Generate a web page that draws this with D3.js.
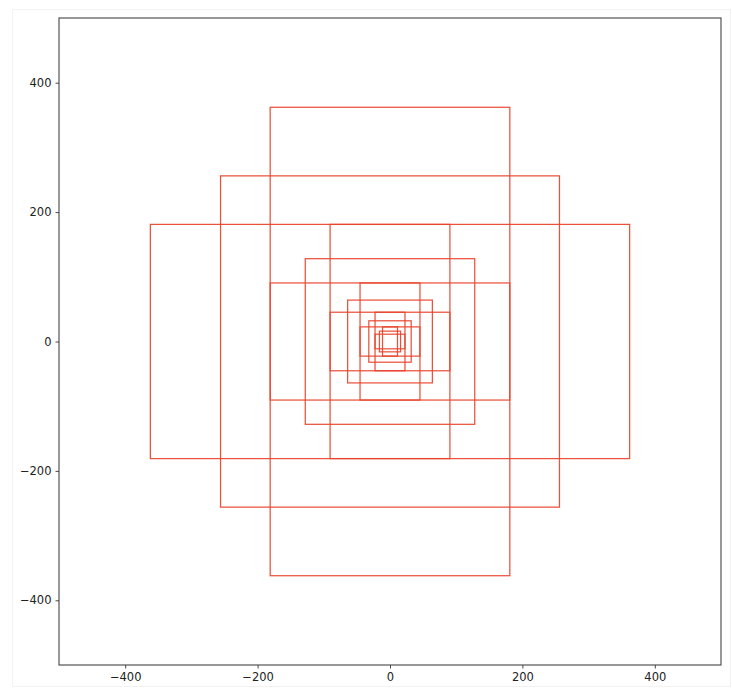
<!DOCTYPE html>
<html>
<head>
<meta charset="utf-8">
<script src="https://cdn.jsdelivr.net/npm/d3@7"></script>
<style>
html, body { margin: 0; padding: 0; background: #fff; }
svg { display: block; }
</style>
</head>
<body>
<svg id="chart" width="732" height="688"></svg>
<script>
// Nested rectangles (centred at origin): half widths and half heights per level
const levels = [0, 1, 2, 3, 4];
const squareHalf = [256, 128, 64, 32, 16];
const rectLongHalf = [362, 181, 90.5, 45.25, 22.6];
const rectShortHalf = [181, 90.5, 45.25, 22.6, 11.3];
const xTicks = [-400, -200, 0, 200, 400];
const yTicks = [-400, -200, 0, 200, 400];
const xDomain = [-500, 500];
const yDomain = [-500, 500];

const svg = d3.select("#chart");
const W = 732, H = 688;
const m = { left: 59, right: 11, top: 18, bottom: 23 };

// faint outer image border
svg.append("rect").attr("x", 12.5).attr("y", 9.5).attr("width", W - 14).attr("height", H - 11)
  .attr("fill", "none").attr("stroke", "#f2f2f2").attr("stroke-width", 1);

const x = d3.scaleLinear().domain(xDomain).range([m.left, W - m.right]);
const y = d3.scaleLinear().domain(yDomain).range([H - m.bottom, m.top]);

// build rectangles list from arrays
const rects = [];
levels.forEach((lv, i) => {
  rects.push({ hw: rectShortHalf[i], hh: rectLongHalf[i] });  // tall
  rects.push({ hw: squareHalf[i], hh: squareHalf[i] });       // square
  rects.push({ hw: rectLongHalf[i], hh: rectShortHalf[i] });  // wide
});

const g = svg.append("g");
g.selectAll("rect.r").data(rects).join("rect")
  .attr("class", "r")
  .attr("x", d => x(-d.hw))
  .attr("y", d => y(d.hh))
  .attr("width", d => x(d.hw) - x(-d.hw))
  .attr("height", d => y(-d.hh) - y(d.hh))
  .attr("fill", "none")
  .attr("stroke", "#e8432b")
  .attr("stroke-width", 1.25)
  .attr("stroke-opacity", 0.92);

const fmt = d => (d < 0 ? "\u2212" + Math.abs(d) : String(d));

const xAxis = d3.axisBottom(x).tickValues(xTicks).tickFormat(fmt).tickSize(3.5).tickPadding(4);
const yAxis = d3.axisLeft(y).tickValues(yTicks).tickFormat(fmt).tickSize(3.5).tickPadding(4);

const gx = svg.append("g").attr("transform", `translate(0,${H - m.bottom})`).call(xAxis);
const gy = svg.append("g").attr("transform", `translate(${m.left},0)`).call(yAxis);
[gx, gy].forEach(a => {
  a.select(".domain").remove();
  a.selectAll(".tick line").attr("stroke", "#333").attr("stroke-width", 0.9);
  a.selectAll(".tick text").attr("fill", "#222")
    .style("font-family", "'DejaVu Sans', sans-serif").style("font-size", "11.5px");
});

// frame
svg.append("rect")
  .attr("x", m.left).attr("y", m.top)
  .attr("width", W - m.left - m.right).attr("height", H - m.top - m.bottom)
  .attr("fill", "none").attr("stroke", "#444").attr("stroke-width", 1.1);
</script>
</body>
</html>
